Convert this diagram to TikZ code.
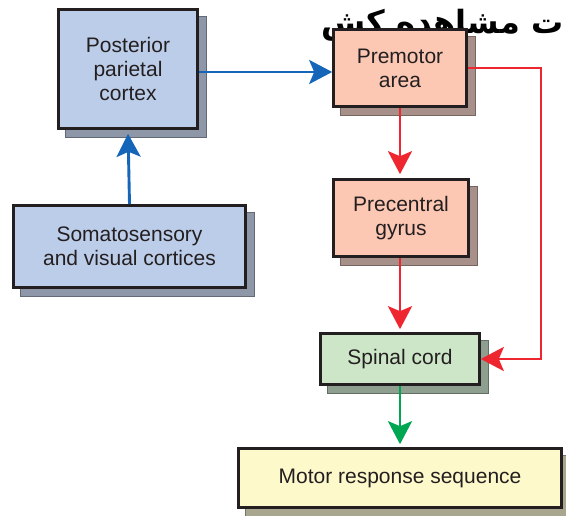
\documentclass[tikz,border=0pt]{standalone}
\usepackage{fontspec}
\setmainfont{Liberation Sans}
\newfontfamily\arabicfont[Script=Arabic]{DejaVu Sans}
\TeXXeTstate=1
\usetikzlibrary{arrows.meta,backgrounds}
\definecolor{bluefill}{HTML}{BCCDE9}
\definecolor{blueshadow}{HTML}{8D97A7}
\definecolor{peachfill}{HTML}{FCC8B3}
\definecolor{peachshadow}{HTML}{A8908A}
\definecolor{greenfill}{HTML}{CDE6C8}
\definecolor{greenshadow}{HTML}{8F9F8F}
\definecolor{yellowfill}{HTML}{FEF9CB}
\definecolor{yellowshadow}{HTML}{A9A690}
\definecolor{boxline}{HTML}{231F20}
\definecolor{txt}{HTML}{231F20}
\definecolor{barrowc}{HTML}{1565B8}
\definecolor{rarrowc}{HTML}{EE2630}
\definecolor{garrowc}{HTML}{00A651}
\begin{document}
\begin{tikzpicture}[x=1pt,y=-1pt,
  box/.style={draw=boxline, line width=2.6pt, text=txt, align=center, inner sep=0pt,
    font=\fontsize{21}{24}\selectfont},
  shad/.style={draw=#1!70!black, line width=1pt, fill=#1},
  conn/.style={line width=2.9pt, -{Stealth[length=23pt,width=24pt,inset=5pt]}},
  barrow/.style={conn, draw=barrowc},
  rarrow/.style={conn, draw=rarrowc},
  garrow/.style={conn, draw=garrowc}]
\useasboundingbox (0,0) rectangle (566,516);
\node[anchor=base east, font=\arabicfont\bfseries\fontsize{32}{32}\selectfont, text=black]
  (fa) at (567,34) {\beginR ت مشاهده کش\endR};
\node[box, fill=bluefill, minimum width=139pt, minimum height=119pt] (post) at (128,69) {Posterior\\parietal\\cortex};
\node[box, fill=peachfill, minimum width=133pt, minimum height=77pt] (pre) at (400,68) {Premotor\\area};
\node[box, fill=peachfill, minimum width=135pt, minimum height=77pt] (prec) at (401,218) {Precentral\\gyrus};
\node[box, fill=bluefill, minimum width=232pt, minimum height=82pt] (soma) at (129.5,246.5) {Somatosensory\\and visual cortices};
\node[box, fill=greenfill, minimum width=159pt, minimum height=51pt] (spin) at (400,359) {Spinal cord};
\node[box, fill=yellowfill, minimum width=323pt, minimum height=59pt] (mot) at (400,478) {Motor response sequence};
\begin{scope}[on background layer]
  \foreach \n/\c in {post/blueshadow, pre/peachshadow, prec/peachshadow, soma/blueshadow, spin/greenshadow, mot/yellowshadow}
    \draw[shad=\c] ([shift={(8pt,-8pt)}]\n.north west) rectangle ([shift={(8pt,-8pt)}]\n.south east);
\end{scope}
\coordinate (rx) at (541,0);
\draw[barrow] ([yshift=-3pt]post.east) -- ([yshift=-3pt]post.east -| pre.west);
\draw[barrow, shorten >=4pt] (soma.north) -- (post.south);
\draw[rarrow, shorten >=4pt] (pre.south) -- (pre.south |- prec.north);
\draw[rarrow, shorten >=3pt] (pre.south |- prec.south) -- (pre.south |- spin.north);
\draw[rarrow] (pre.east) -- (pre.east -| rx) |- (spin.east);
\draw[garrow, shorten >=3pt] (spin.south) -- (mot.north);
\end{tikzpicture}
\end{document}
